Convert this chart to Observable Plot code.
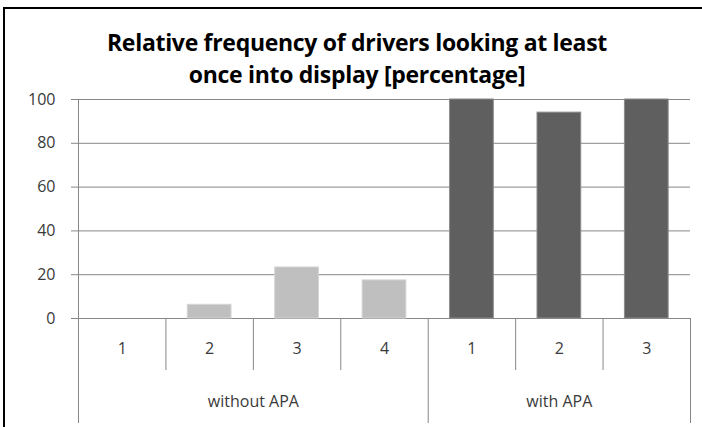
<!DOCTYPE html>
<html><head><meta charset="utf-8">
<script src="https://cdn.jsdelivr.net/npm/d3@7"></script>
<script src="https://cdn.jsdelivr.net/npm/@observablehq/plot@0.6"></script>
<style>
body{margin:0;background:#fff;width:702px;height:427px;overflow:hidden;position:relative;font-family:"Open Sans",sans-serif}
#frame{position:absolute;left:3px;top:7px;width:760px;height:480px;border-left:2px solid #000;border-top:2px solid #000}
#title{position:absolute;left:0;top:26px;width:714px;text-align:center;font-weight:bold;font-size:23px;line-height:32px;color:#000;letter-spacing:-0.3px}
#chart{position:absolute;left:0;top:0}
</style></head><body>
<div id="frame"></div>
<div id="title">Relative frequency of drivers looking at least<br>once into display [percentage]</div>
<div id="chart"></div>
<script>
// data
const categories = ["1", "2", "3", "4", "1", "2", "3"];
const groups = ["without APA", "without APA", "without APA", "without APA", "with APA", "with APA", "with APA"];
const values = [0, 6.25, 23.3, 17.4, 100, 94, 100];
const groupNames = ["without APA", "with APA"];
const yTicks = [0, 20, 40, 60, 80, 100];

const rows = categories.map((c, i) => ({i, category: c, group: groups[i], value: values[i]}));
const n = categories.length;

// boundaries between categories / groups
const groupBounds = [0];
for (let i = 1; i < n; i++) if (groups[i] !== groups[i - 1]) groupBounds.push(i);
groupBounds.push(n);
const innerBounds = d3.range(1, n).filter(i => !groupBounds.includes(i));
const groupLabels = groupNames.map(g => {
  const idx = rows.filter(r => r.group === g).map(r => r.i);
  return {group: g, x: (d3.min(idx) + d3.max(idx) + 1) / 2};
});

const grid = "#878787";
const chart = Plot.plot({
  width: 702,
  height: 427,
  marginLeft: 78,
  marginRight: 12,
  marginTop: 99,
  marginBottom: 109,
  style: {fontFamily: "'Open Sans', sans-serif", fontSize: "16px", background: "transparent", overflow: "visible"},
  x: {type: "linear", domain: [0, n], axis: null},
  y: {domain: [0, 100], axis: null},
  color: {domain: groupNames, range: ["#BFBFBF", "#5F5F5F"]},
  marks: [
    Plot.ruleY(yTicks, {stroke: grid, strokeWidth: 1}),
    Plot.axisY(yTicks, {label: null, tickSize: 7, tickPadding: 16, stroke: grid, fill: "#3a3a3a", fontSize: 16, tickFormat: d => String(d)}),
    Plot.rectY(rows, {
      filter: d => d.value > 0,
      x1: d => d.i + 0.25, x2: d => d.i + 0.75, y: "value",
      fill: "group",
      stroke: d => d.group === groupNames[0] ? "#D4D4D4" : "#8A8A8A",
      strokeWidth: 1
    }),
    // y-axis line and group separators extending into the category area
    Plot.ruleX([0], {stroke: grid, insetBottom: -105}),
    Plot.ruleX(groupBounds.slice(1), {y1: 0, y2: 0, stroke: grid, insetBottom: -105}),
    Plot.ruleX(innerBounds, {y1: 0, y2: 0, stroke: grid, insetBottom: -52}),
    Plot.text(rows, {x: d => d.i + 0.5, text: "category", frameAnchor: "bottom", dy: 35, fill: "#3a3a3a", fontSize: 16}),
    Plot.text(groupLabels, {x: "x", text: "group", frameAnchor: "bottom", dy: 88, fill: "#3a3a3a", fontSize: 16})
  ]
});
document.getElementById("chart").appendChild(chart);
</script>
</body></html>
